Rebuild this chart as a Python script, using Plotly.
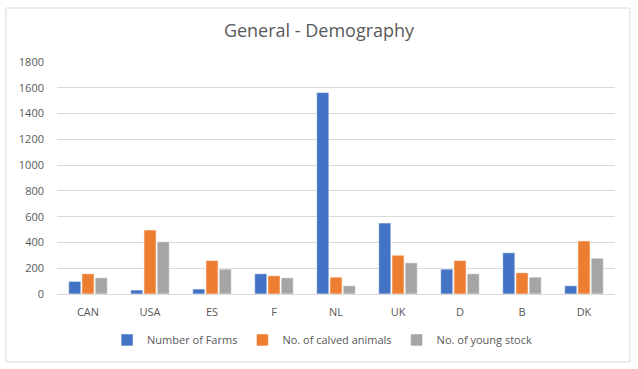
import plotly.graph_objects as go

categories = ["CAN", "USA", "ES", "F", "NL", "UK", "D", "B", "DK"]
farms = [98, 31, 39, 157, 1564, 551, 193, 320, 64]
calved = [157, 497, 260, 142, 131, 301, 260, 165, 412]
young = [126, 405, 193, 126, 64, 242, 157, 131, 278]
y_ticks = [0, 200, 400, 600, 800, 1000, 1200, 1400, 1600, 1800]

series = [
    ("Number of Farms", farms, "#4472C4"),
    ("No. of calved animals", calved, "#ED7D31"),
    ("No. of young stock", young, "#A5A5A5"),
]

fig = go.Figure()
for name, vals, col in series:
    fig.add_trace(go.Bar(name=name, x=categories, y=vals,
                         marker=dict(color=col, line=dict(color="white", width=0.6))))

font_fam = "Open Sans, Liberation Sans, sans-serif"
fig.update_layout(
    width=638, height=369,
    margin=dict(l=57, r=23, t=62, b=75),
    paper_bgcolor="white", plot_bgcolor="white",
    barmode="group", bargap=0.36, bargroupgap=0.08,
    font=dict(family=font_fam, color="#595959", size=11),
    title=dict(text="General - Demography", x=0.5, xanchor="center",
               y=1 - 31/369, yanchor="middle",
               font=dict(size=18, color="#595959", family=font_fam)),
    showlegend=True,
    legend=dict(orientation="h", x=0.475, xanchor="center", y=-0.198, yanchor="middle",
                font=dict(size=11, color="#595959"), itemwidth=30, tracegroupgap=0),
    xaxis=dict(showgrid=False, showline=True, linecolor="#D9D9D9", linewidth=1,
               ticks="", ticklabelstandoff=8, tickfont=dict(size=11)),
    yaxis=dict(range=[0, 1800], tickvals=y_ticks, showgrid=True, gridcolor="#D9D9D9",
               gridwidth=1, zeroline=False, showline=False, ticks="",
               ticklabelstandoff=12, tickfont=dict(size=11)),
    shapes=[dict(type="rect", xref="paper", yref="paper",
                 x0=(6-57)/558, x1=(630-57)/558, y0=(294-362)/232, y1=(294-8)/232,
                 line=dict(color="#D9D9D9", width=1), fillcolor="rgba(0,0,0,0)", layer="below")],
)

fig.write_html("out.html", config={"displayModeBar": False},
               post_script="document.body.style.margin='0';document.body.style.overflow='hidden';")
